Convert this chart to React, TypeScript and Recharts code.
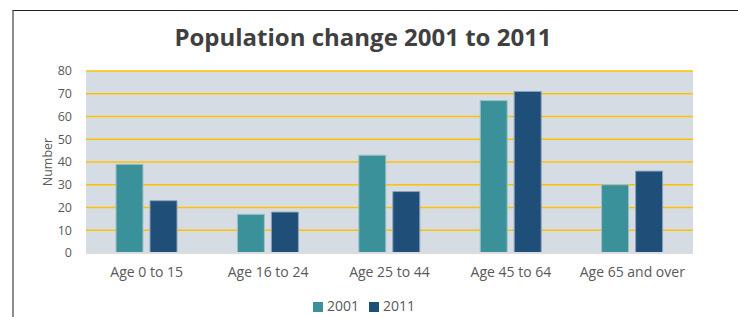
import React from "react";
import { BarChart, Bar, XAxis, YAxis, CartesianGrid, Legend } from "recharts";

const categories = ["Age 0 to 15", "Age 16 to 24", "Age 25 to 44", "Age 45 to 64", "Age 65 and over"];
const values2001 = [39, 17, 43, 67, 30];
const values2011 = [23, 18, 27, 71, 36];
const yTicks = [0, 10, 20, 30, 40, 50, 60, 70, 80];

const data = categories.map((c, i) => ({ name: c, y2001: values2001[i], y2011: values2011[i] }));

const FONT = "'Open Sans', 'Segoe UI', sans-serif";

export default function App() {
  return (
    <div style={{ position: "absolute", left: 0, top: 0, width: 738, height: 317, background: "#fff", fontFamily: FONT }}>
      <div style={{ position: "absolute", left: 12, top: 10, width: 726, height: 307, borderTop: "1px solid #1e1e1e", borderLeft: "2px solid #8c8c8c", boxSizing: "border-box" }} />
      <div style={{ position: "absolute", left: 0, top: 20, width: 726, textAlign: "center", fontSize: 24, fontWeight: 700, color: "#404040", fontFamily: FONT }}>
        Population change 2001 to 2011
      </div>
      <div style={{ position: "absolute", left: 0, top: 0 }}>
        <BarChart width={738} height={317} data={data} margin={{ top: 71, right: 45, left: 0, bottom: 0 }} barGap={7} barSize={27}>
          <CartesianGrid vertical={false} stroke="#FFC000" strokeWidth={1.5} fill="#d6dce4" horizontalValues={yTicks} syncWithTicks />
          <XAxis
            dataKey="name"
            height={40}
            tickLine={false}
            axisLine={{ stroke: "#dcdcdc", strokeWidth: 2 }}
            tick={{ fill: "#595959", fontSize: 14, fontFamily: FONT }}
            tickMargin={8}
          />
          <YAxis
            width={86}
            domain={[0, 80]}
            ticks={yTicks}
            tickCount={9}
            interval={0}
            tickLine={false}
            axisLine={false}
            tick={{ fill: "#595959", fontSize: 12.5, fontFamily: FONT }}
            tickMargin={8}
            label={{ value: "Number", angle: -90, position: "insideLeft", offset: 48, textAnchor: "middle", fill: "#595959", fontSize: 12.5, fontFamily: FONT }}
          />
          <Legend
            verticalAlign="bottom"
            height={24}
            iconType="square"
            iconSize={10}
            wrapperStyle={{ fontSize: 14, fontFamily: FONT, left: 0, width: 738, bottom: -3 }}
            formatter={(v: string) => <span style={{ color: "#595959" }}>{v}</span>}
          />
          <Bar dataKey="y2001" name="2001" fill="#3B9199" stroke="#9fc2c8" strokeWidth={1} isAnimationActive={false} />
          <Bar dataKey="y2011" name="2011" fill="#1F4E79" stroke="#8aa3bd" strokeWidth={1} isAnimationActive={false} />
        </BarChart>
      </div>
    </div>
  );
}
